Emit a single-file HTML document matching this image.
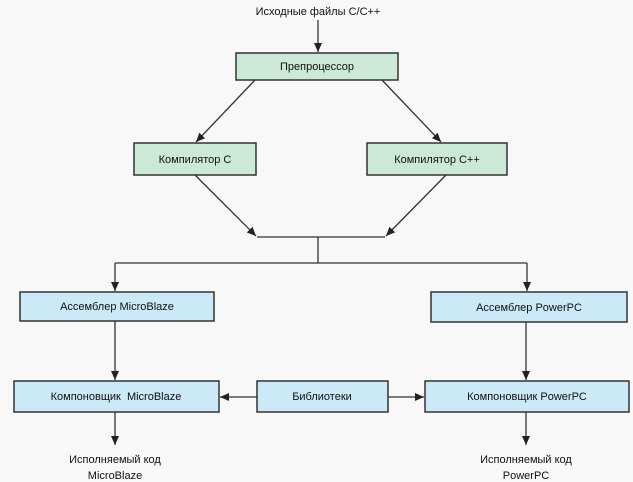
<!DOCTYPE html>
<html><head><meta charset="utf-8"><style>
html,body{margin:0;padding:0;background:#f8f8f8;}
svg{display:block;}
text{font-family:"Liberation Sans","DejaVu Sans",sans-serif;font-size:11px;fill:#111;text-anchor:middle;}
</style></head><body>
<svg width="633" height="482" viewBox="0 0 633 482" xmlns="http://www.w3.org/2000/svg">
<defs><marker id="a" markerWidth="10" markerHeight="10" refX="9" refY="5" orient="auto" markerUnits="userSpaceOnUse"><path d="M0,1 L9,5 L0,9 z" fill="#222"/></marker></defs>
<rect width="633" height="482" fill="#f8f8f8"/>
<g stroke="#333" stroke-width="1.3" fill="none">
<line x1="318" y1="20" x2="318" y2="52" marker-end="url(#a)"/>
<line x1="255" y1="80" x2="196" y2="142" marker-end="url(#a)"/>
<line x1="382" y1="80" x2="441" y2="142" marker-end="url(#a)"/>
<line x1="195" y1="175" x2="256" y2="236" marker-end="url(#a)"/>
<line x1="446" y1="175" x2="386" y2="236" marker-end="url(#a)"/>
<line x1="257" y1="237" x2="385" y2="237"/>
<line x1="318" y1="237" x2="318" y2="263"/>
<line x1="115" y1="263" x2="527" y2="263"/>
<line x1="115" y1="263" x2="115" y2="291" marker-end="url(#a)"/>
<line x1="527" y1="263" x2="527" y2="291" marker-end="url(#a)"/>
<line x1="115" y1="321" x2="115" y2="380" marker-end="url(#a)"/>
<line x1="526" y1="322" x2="526" y2="380" marker-end="url(#a)"/>
<line x1="257" y1="397" x2="220" y2="397" marker-end="url(#a)"/>
<line x1="388" y1="397" x2="424" y2="397" marker-end="url(#a)"/>
<line x1="115" y1="412" x2="115" y2="445" marker-end="url(#a)"/>
<line x1="526" y1="412" x2="526" y2="445" marker-end="url(#a)"/>
</g>
<g stroke="#333" stroke-width="1.5">
<rect x="236" y="53" width="162" height="27" fill="#cce8d6"/>
<rect x="134" y="143" width="122" height="32" fill="#cce8d6"/>
<rect x="367" y="143" width="140" height="32" fill="#cce8d6"/>
<rect x="20" y="292" width="194" height="29" fill="#cce9f8"/>
<rect x="431" y="292" width="196" height="30" fill="#cce9f8"/>
<rect x="14" y="381" width="205" height="31" fill="#cce9f8"/>
<rect x="257" y="381" width="131" height="31" fill="#cce9f8"/>
<rect x="425" y="381" width="204" height="31" fill="#cce9f8"/>
</g>
<text x="318" y="15">Исходные файлы C/C++</text>
<text x="317" y="70">Препроцессор</text>
<text x="195" y="163">Компилятор C</text>
<text x="437" y="163">Компилятор C++</text>
<text x="117" y="310">Ассемблер MicroBlaze</text>
<text x="529" y="311">Ассемблер PowerPC</text>
<text x="116" y="400">Компоновщик&#160; MicroBlaze</text>
<text x="322" y="400">Библиотеки</text>
<text x="527" y="400">Компоновщик PowerPC</text>
<text x="115" y="463">Исполняемый код</text>
<text x="115" y="479">MicroBlaze</text>
<text x="526" y="463">Исполняемый код</text>
<text x="526" y="479">PowerPC</text>
</svg>
</body></html>
